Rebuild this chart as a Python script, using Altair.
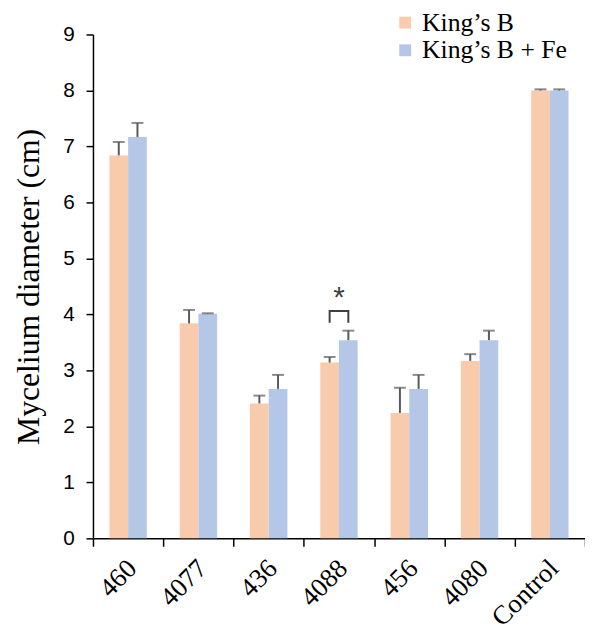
import altair as alt
import pandas as pd

categories = ["460", "4077", "436", "4088", "456", "4080", "Control"]
series_names = ["King’s B", "King’s B + Fe"]
kings_b = [6.84, 3.84, 2.41, 3.14, 2.24, 3.17, 8.00]
kings_b_err = [0.24, 0.24, 0.14, 0.10, 0.45, 0.12, 0.02]
kings_b_fe = [7.17, 4.01, 2.67, 3.54, 2.67, 3.54, 8.00]
kings_b_fe_err = [0.25, 0.01, 0.25, 0.17, 0.25, 0.17, 0.02]
colors = ["#F8CBAD", "#B4C7E7"]

# significance marker for 4088
sig_category = "4088"
bracket_low = 3.85
bracket_high = 4.06
star_value = 4.30

rows = []
for i, c in enumerate(categories):
    rows.append({"cat": c, "series": series_names[0], "value": kings_b[i], "err": kings_b_err[i]})
    rows.append({"cat": c, "series": series_names[1], "value": kings_b_fe[i], "err": kings_b_fe_err[i]})
df = pd.DataFrame(rows)
df["top"] = df["value"] + df["err"]

bracket_df = pd.DataFrame({
    "cat": [sig_category] * 4,
    "series": [series_names[0], series_names[0], series_names[1], series_names[1]],
    "v": [bracket_low, bracket_high, bracket_high, bracket_low],
    "o": [0, 1, 2, 3],
})
star_df = pd.DataFrame({"cat": [sig_category], "v": [star_value], "t": ["*"]})

x_enc = alt.X(
    "cat:N",
    sort=categories,
    scale=alt.Scale(paddingInner=0, paddingOuter=0),
    axis=alt.Axis(
        title=None, labelAngle=-45, labelAlign="right", labelBaseline="middle",
        tickBand="extent", labelFont="Liberation Serif", labelFontSize=27,
        labelColor="black", domainColor="black", tickColor="black",
        tickSize=8, domainWidth=1.5, tickWidth=1.5, labelPadding=18,
        labelOffset=4,
    ),
)
xoff = alt.XOffset("series:N", sort=series_names,
                   scale=alt.Scale(paddingOuter=0.88, paddingInner=0))
y_scale = alt.Scale(domain=[0, 9], nice=False)
y_enc = alt.Y(
    "value:Q", scale=y_scale,
    axis=alt.Axis(
        title="Mycelium diameter (cm)", values=list(range(10)), format="d",
        grid=False,
        labelFont="Liberation Sans", labelFontSize=21, labelColor="black",
        domainColor="black", tickColor="black", tickSize=7, domainWidth=1.5,
        tickWidth=1.5, labelPadding=12, titleFont="Liberation Serif",
        titleFontSize=32, titleFontWeight="normal", titleColor="black",
        titlePadding=17,
    ),
)

bars = alt.Chart(df).mark_bar().encode(
    x=x_enc, xOffset=xoff, y=y_enc,
    color=alt.Color(
        "series:N", sort=series_names,
        scale=alt.Scale(domain=series_names, range=colors),
        legend=alt.Legend(
            title=None, orient="none", legendX=303, legendY=-25,
            symbolType="square", symbolSize=144, symbolStrokeWidth=0,
            labelFont="Liberation Serif", labelFontSize=26, labelColor="black",
            labelFontWeight="normal",
            rowPadding=2, padding=0, labelOffset=4,
        ),
    ),
)

err_rules = alt.Chart(df).mark_rule(color="#595959", strokeWidth=2).encode(
    x=alt.X("cat:N", sort=categories), xOffset=xoff,
    y=alt.Y("value:Q", scale=y_scale), y2="top:Q",
)
err_caps = alt.Chart(df).mark_tick(color="#595959", thickness=2, size=12).encode(
    x=alt.X("cat:N", sort=categories), xOffset=xoff,
    y=alt.Y("top:Q", scale=y_scale),
)

bracket = alt.Chart(bracket_df).mark_line(color="#404040", strokeWidth=2).encode(
    x=alt.X("cat:N", sort=categories),
    xOffset=alt.XOffset("series:N", sort=series_names),
    y=alt.Y("v:Q", scale=y_scale), order="o:Q",
)
star = alt.Chart(star_df).mark_text(
    font="Liberation Sans", fontSize=30, color="#404040", baseline="middle"
).encode(
    x=alt.X("cat:N", sort=categories),
    y=alt.Y("v:Q", scale=y_scale), text="t:N",
)

chart = alt.layer(bars, err_rules, err_caps, bracket, star).properties(
    width=498, height=510,
    padding={"left": 86, "top": 23, "right": 0, "bottom": 93},
    autosize="none",
).configure_view(stroke=None)

chart.save("out.html", embed_options={"renderer": "svg", "actions": False})
